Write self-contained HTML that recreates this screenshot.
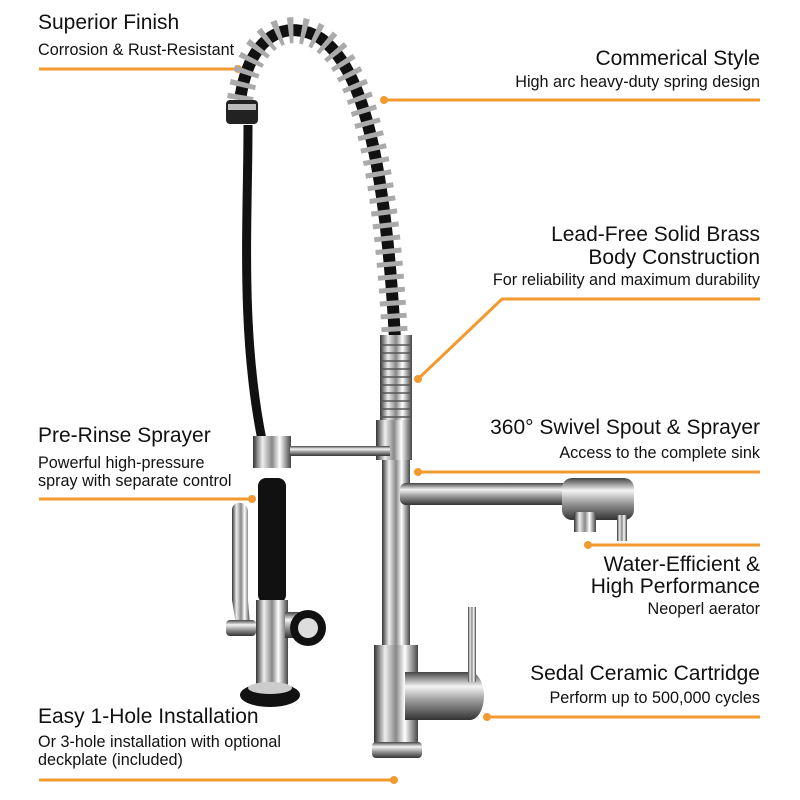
<!DOCTYPE html>
<html><head><meta charset="utf-8"><style>
body{margin:0;width:800px;height:800px;background:#fff;overflow:hidden;position:relative;font-family:"Liberation Sans",sans-serif;color:#111}
.t{position:absolute;font-size:21px;white-space:nowrap;line-height:23px}
.s{position:absolute;font-size:16.2px;white-space:nowrap;line-height:18px}
.r{text-align:right;right:40px}
</style></head><body>
<svg width="800" height="800" style="position:absolute;left:0;top:0">
<defs>
<linearGradient id="ch" x1="0" x2="1"><stop offset="0" stop-color="#333"/><stop offset=".25" stop-color="#eee"/><stop offset=".5" stop-color="#888"/><stop offset=".7" stop-color="#fff"/><stop offset="1" stop-color="#444"/></linearGradient>
<linearGradient id="cv" x1="0" y1="0" x2="0" y2="1"><stop offset="0" stop-color="#444"/><stop offset=".3" stop-color="#f4f4f4"/><stop offset=".6" stop-color="#999"/><stop offset="1" stop-color="#333"/></linearGradient>
</defs>
<g stroke="#f29a2e" stroke-width="3" fill="none">
<path d="M39 69H238M384 100H760M418 379L502 299H760M252 499H39M418 472H760M588 545H760M487 717H760M394 780H39"/>
</g>
<g fill="#f29a2e"><circle cx="238" cy="69" r="4"/><circle cx="384" cy="100" r="4"/><circle cx="418" cy="379" r="4"/><circle cx="252" cy="499" r="4"/><circle cx="418" cy="472" r="4"/><circle cx="588" cy="545" r="4"/><circle cx="487" cy="717" r="4"/><circle cx="394" cy="780" r="4"/></g>
<path d="M248 125 C248 220 240 330 262 440" stroke="#111" stroke-width="9" fill="none"/>
<path d="M240 100 C250 30 290 20 320 38 C360 65 385 150 395 340" stroke="#111" stroke-width="12" fill="none"/>
<path d="M240 100 C250 30 290 20 320 38 C360 65 385 150 395 340" stroke="#aaa" stroke-width="26" fill="none" stroke-dasharray="5 8"/>
<rect x="226" y="100" width="32" height="24" rx="4" fill="#222"/><rect x="228" y="104" width="28" height="6" fill="#bbb"/>
<rect x="380" y="335" width="32" height="88" fill="url(#ch)"/>
<g stroke="#555" stroke-width="1.5"><path d="M380 345H412M380 353H412M380 361H412M380 369H412M380 377H412M380 385H412M380 393H412M380 401H412M380 409H412M380 417H412"/></g>
<rect x="376" y="420" width="36" height="40" fill="url(#ch)"/>
<rect x="382" y="460" width="28" height="190" fill="url(#ch)"/>
<rect x="253" y="436" width="38" height="32" fill="url(#ch)"/>
<rect x="290" y="446" width="100" height="10" fill="url(#cv)"/>
<rect x="400" y="483" width="170" height="22" rx="6" fill="url(#cv)"/>
<rect x="562" y="478" width="72" height="42" rx="10" fill="url(#cv)"/>
<rect x="574" y="512" width="22" height="20" fill="url(#ch)"/>
<rect x="617" y="515" width="10" height="26" fill="url(#ch)"/>
<rect x="374" y="645" width="44" height="100" fill="url(#ch)"/>
<rect x="372" y="742" width="50" height="16" rx="4" fill="url(#cv)"/>
<path d="M405 672H470A14 24 0 0 1 470 720H405Z" fill="url(#cv)"/>
<rect x="468" y="607" width="8" height="75" fill="url(#ch)"/>
<rect x="258" y="478" width="28" height="125" rx="8" fill="#111"/>
<rect x="256" y="600" width="32" height="85" fill="url(#ch)"/>
<rect x="285" y="612" width="20" height="26" fill="url(#cv)"/>
<circle cx="308" cy="628" r="18" fill="#111"/><circle cx="308" cy="628" r="10" fill="#ddd"/>
<path d="M232 510C232 500 248 500 248 512V600L250 625H236L232 600Z" fill="url(#ch)"/>
<rect x="226" y="620" width="30" height="16" rx="4" fill="url(#cv)"/>
<ellipse cx="270" cy="695" rx="30" ry="12" fill="#111"/>
<ellipse cx="270" cy="688" rx="22" ry="6" fill="#ccc"/>
</svg>
<div class="t" style="left:38px;top:11px">Superior Finish</div>
<div class="s" style="left:38px;top:41px">Corrosion &amp; Rust-Resistant</div>
<div class="t r" style="top:47px">Commerical Style</div>
<div class="s r" style="top:73px">High arc heavy-duty spring design</div>
<div class="t r" style="top:223px">Lead-Free Solid Brass</div>
<div class="t r" style="top:246px">Body Construction</div>
<div class="s r" style="top:271px">For reliability and maximum durability</div>
<div class="t" style="left:38px;top:424px">Pre-Rinse Sprayer</div>
<div class="s" style="left:38px;top:454px">Powerful high-pressure</div>
<div class="s" style="left:38px;top:472px">spray with separate control</div>
<div class="t r" style="top:416px">360° Swivel Spout &amp; Sprayer</div>
<div class="s r" style="top:444px">Access to the complete sink</div>
<div class="t r" style="top:553px">Water-Efficient &amp;</div>
<div class="t r" style="top:575px">High Performance</div>
<div class="s r" style="top:600px">Neoperl aerator</div>
<div class="t r" style="top:662px">Sedal Ceramic Cartridge</div>
<div class="s r" style="top:689px">Perform up to 500,000 cycles</div>
<div class="t" style="left:38px;top:705px">Easy 1-Hole Installation</div>
<div class="s" style="left:38px;top:733px">Or 3-hole installation with optional</div>
<div class="s" style="left:38px;top:751px">deckplate (included)</div>
</body></html>
